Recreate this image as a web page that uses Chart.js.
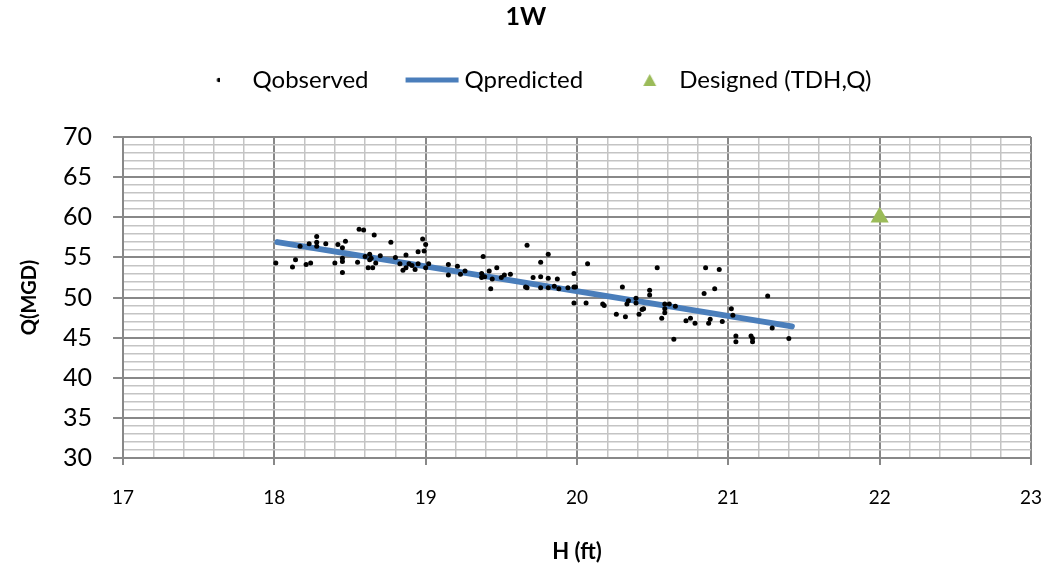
<!DOCTYPE html>
<html>
<head>
<meta charset="utf-8">
<script src="https://cdn.jsdelivr.net/npm/chart.js@4.4.1/dist/chart.umd.min.js"></script>
<style>
  body { margin: 0; background: #fff; }
  #wrap { width: 1063px; height: 572px; }
</style>
</head>
<body>
<div id="wrap"><canvas id="pump-chart" width="1063" height="572"></canvas></div>
<script>
// observed head (ft) and flow (MGD)
var hObs = [
  18.01, 18.12, 18.14, 18.17, 18.21, 18.24, 18.23, 18.28, 18.28, 18.28,
  18.34, 18.40, 18.42, 18.45, 18.47, 18.45, 18.45, 18.45, 18.56, 18.59,
  18.55, 18.66, 18.60, 18.63, 18.64, 18.63, 18.62, 18.65, 18.67, 18.70,
  18.77, 18.80, 18.83, 18.85, 18.87, 18.89, 18.87, 18.91, 18.93, 18.95,
  18.95, 18.98, 19.00, 18.99, 19.00, 19.02, 19.15, 19.15, 19.21, 19.23,
  19.26, 19.38, 19.37, 19.37, 19.39, 19.42, 19.43, 19.44, 19.47, 19.50,
  19.52, 19.56, 19.67, 19.66, 19.67, 19.71, 19.76, 19.76, 19.76, 19.81,
  19.81, 19.81, 19.85, 19.87, 19.88, 19.94, 19.98, 19.98, 19.99, 19.98,
  20.06, 20.07, 20.17, 20.18, 20.26, 20.30, 20.32, 20.33, 20.34, 20.39,
  20.39, 20.41, 20.43, 20.44, 20.48, 20.48, 20.53, 20.56, 20.58, 20.58,
  20.58, 20.61, 20.64, 20.65, 20.72, 20.75, 20.78, 20.84, 20.85, 20.88,
  20.87, 20.91, 20.94, 20.96, 21.02, 21.03, 21.05, 21.05, 21.15, 21.16,
  21.16, 21.26, 21.29, 21.40
];
var qObs = [
  54.3, 53.8, 54.7, 56.4, 54.1, 54.3, 56.7, 57.6, 56.9, 56.4,
  56.7, 54.3, 56.6, 56.2, 57.0, 54.9, 54.5, 53.1, 58.5, 58.4,
  54.4, 57.8, 55.1, 55.4, 54.9, 54.7, 53.7, 53.7, 54.3, 55.2,
  56.9, 55.0, 54.2, 53.4, 55.3, 54.2, 53.7, 54.0, 53.5, 54.2,
  55.7, 57.3, 56.6, 55.8, 53.7, 54.2, 54.1, 52.8, 53.9, 52.9,
  53.3, 55.1, 53.0, 52.5, 52.6, 53.3, 51.1, 52.3, 53.7, 52.5,
  52.8, 52.9, 56.5, 51.3, 51.2, 52.5, 54.4, 52.6, 51.2, 55.4,
  52.4, 51.2, 51.4, 52.3, 51.1, 51.2, 53.0, 51.3, 51.3, 49.3,
  49.3, 54.2, 49.2, 49.0, 47.9, 51.3, 47.6, 49.2, 49.6, 49.9,
  49.3, 47.9, 48.5, 48.6, 50.9, 50.3, 53.7, 47.4, 48.1, 48.6,
  49.2, 49.2, 44.8, 48.9, 47.1, 47.4, 46.8, 50.5, 53.7, 47.3,
  46.8, 51.1, 53.5, 47.0, 48.6, 47.8, 45.2, 44.5, 45.2, 44.9,
  44.5, 50.2, 46.2, 44.9
];

// fitted line
var hPred = [18.02, 21.42];
var qPred = [56.9, 46.4];

// design point
var hDes = [22];
var qDes = [60];

var xTicks = [17, 18, 19, 20, 21, 22, 23];
var yTicks = [30, 35, 40, 45, 50, 55, 60, 65, 70];

var BLUE = "#4a7ebb";
var GREEN = "#9bbb59";
var MAJOR = "#888888";
var MINOR = "#c4c4c4";

function toPoints(xs, ys) {
  return xs.map((x, i) => ({ x: x, y: ys[i] }));
}

function isMajor(v, list) {
  return list.some(t => Math.abs(v - t) < 1e-6);
}

// little canvases for the legend markers
function makeMarker(w, h, draw) {
  let c = document.createElement("canvas");
  c.width = w;
  c.height = h;
  draw(c.getContext("2d"));
  return c;
}

var dotMark = makeMarker(20, 10, function (g) {
  g.fillStyle = "#000";
  g.beginPath();
  g.arc(18.5, 5, 2.2, 0, Math.PI * 2);
  g.fill();
});
var lineMark = makeMarker(76, 10, function (g) {
  g.fillStyle = BLUE;
  g.fillRect(21, 2.5, 53, 5);
});
var triMark = makeMarker(40, 16, function (g) {
  g.fillStyle = GREEN;
  g.beginPath();
  g.moveTo(32.5, 2);
  g.lineTo(39, 14);
  g.lineTo(26, 14);
  g.closePath();
  g.fill();
});
var legendMarks = [dotMark, lineMark, triMark];

var ctx = document.getElementById("pump-chart").getContext("2d");
var chart = new Chart(ctx, {
  type: "scatter",
  data: {
    datasets: [
      {
        label: "Qobserved",
        data: toPoints(hObs, qObs),
        backgroundColor: "#000",
        borderColor: "#000",
        pointRadius: 2.5,
        pointBorderWidth: 0,
        order: 1
      },
      {
        label: "Qpredicted",
        data: toPoints(hPred, qPred),
        showLine: true,
        borderColor: BLUE,
        backgroundColor: BLUE,
        borderWidth: 6,
        borderCapStyle: "round",
        pointRadius: 0,
        order: 2
      },
      {
        label: "Designed (TDH,Q)",
        data: toPoints(hDes, qDes),
        pointStyle: "triangle",
        pointRadius: 10.5,
        backgroundColor: GREEN,
        borderColor: GREEN,
        borderWidth: 0,
        order: 0
      }
    ]
  },
  options: {
    responsive: false,
    animation: false,
    layout: { padding: { left: 16, right: 27, top: 0, bottom: 0 } },
    plugins: {
      tooltip: { enabled: false },
      title: {
        display: true,
        text: "1W",
        color: "#000",
        font: { family: "Lato", size: 25, weight: "bold" },
        padding: { top: 2, bottom: 12 }
      },
      subtitle: { // empty spacer between legend and plot
        display: true,
        text: "",
        weight: 500,
        font: { size: 10 },
        padding: { top: 0, bottom: 23 }
      },
      legend: {
        display: true,
        position: "top",
        labels: {
          color: "#000",
          font: { family: "Lato", size: 24 },
          usePointStyle: true,
          pointStyleWidth: 60,
          padding: 24,
          generateLabels: function (chart) {
            let items = Chart.defaults.plugins.legend.labels.generateLabels(chart);
            items.sort((a, b) => a.datasetIndex - b.datasetIndex);
            items.forEach(it => { it.pointStyle = legendMarks[it.datasetIndex]; });
            return items;
          }
        }
      }
    },
    scales: {
      x: {
        type: "linear",
        min: 17,
        max: 23,
        afterFit: function (scale) { scale.height = 114; },
        border: { color: MAJOR, width: 2 },
        grid: {
          color: c => isMajor(c.tick.value, xTicks) ? MAJOR : MINOR,
          lineWidth: c => isMajor(c.tick.value, xTicks) ? 2 : 1.5,
          tickColor: c => isMajor(c.tick.value, xTicks) ? MAJOR : "rgba(0,0,0,0)",
          tickLength: 7
        },
        ticks: {
          stepSize: 0.2,
          autoSkip: false,
          maxRotation: 0,
          padding: 21,
          color: "#000",
          font: { family: "Lato", size: 19 },
          callback: v => isMajor(v, xTicks) ? String(Math.round(v)) : ""
        },
        title: {
          display: true,
          text: "H (ft)",
          color: "#000",
          font: { family: "Lato", size: 22, weight: "bold" },
          padding: { top: 0, bottom: 7 }
        }
      },
      y: {
        type: "linear",
        min: 30,
        max: 70,
        afterFit: function (scale) { scale.width = 107; },
        border: { color: MAJOR, width: 2 },
        grid: {
          color: c => isMajor(c.tick.value, yTicks) ? MAJOR : MINOR,
          lineWidth: c => isMajor(c.tick.value, yTicks) ? 2 : 1.5,
          tickColor: c => isMajor(c.tick.value, yTicks) ? MAJOR : "rgba(0,0,0,0)",
          tickLength: 10
        },
        ticks: {
          stepSize: 1,
          autoSkip: false,
          padding: 21,
          color: "#000",
          font: { family: "Lato", size: 25 },
          callback: v => isMajor(v, yTicks) ? String(Math.round(v)) : ""
        },
        title: {
          display: true,
          text: "Q(MGD)",
          color: "#000",
          font: { family: "Lato", size: 20, weight: "bold", lineHeight: 1.1 },
          padding: { top: 3, bottom: 0 }
        }
      }
    }
  }
});
</script>
</body>
</html>
